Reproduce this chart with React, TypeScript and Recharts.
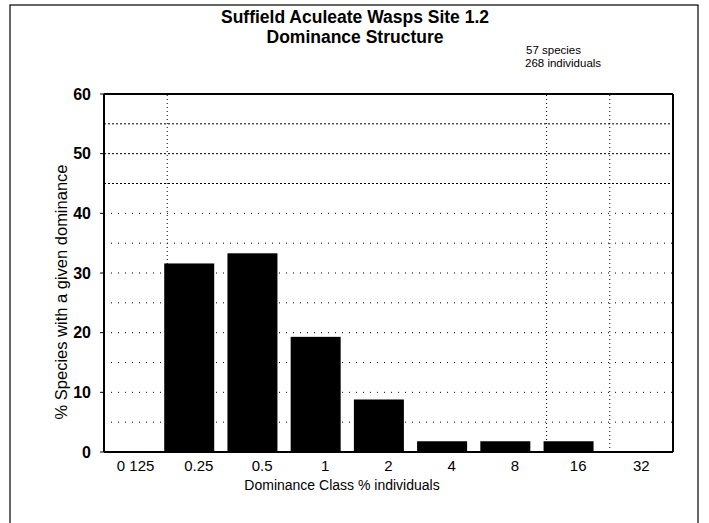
import React from 'react';
import { BarChart, Bar, XAxis, YAxis, ReferenceLine } from 'recharts';

const categories = ['0 125', '0.25', '0.5', '1', '2', '4', '8', '16', '32'];
const percentSpecies = [0, 31.6, 33.3, 19.3, 8.8, 1.8, 1.8, 1.8, 0];
const yTicks = [0, 10, 20, 30, 40, 50, 60];
const denseGrid = [45, 50, 55];
const sparseGrid = [5, 10, 15, 20, 25, 30, 35, 40];
const verticalGridAt = ['0.25', '16', '32'];

const data = categories.map((c, i) => ({ cls: c, pct: percentSpecies[i] }));

const FONT = '"Liberation Sans", Arial, sans-serif';

const ShiftedBar = (props: any) => {
  const { x, y, width, height } = props;
  if (!height || height <= 0) return null;
  return <rect x={x - 10} y={y} width={width} height={height} fill="#000" />;
};

export default function App() {
  return (
    <div style={{ position: 'absolute', left: 0, top: 0, width: 709, height: 523, background: '#fff', fontFamily: FONT }}>
      <svg width={709} height={523} style={{ position: 'absolute', left: 0, top: 0 }}>
        <rect x={10} y={5} width={688} height={530} fill="none" stroke="#000" strokeWidth={1.2} />
        <text x={355} y={23} textAnchor="middle" fontSize={17.5} fontWeight="bold" fontFamily={FONT}>Suffield Aculeate Wasps Site 1.2</text>
        <text x={355} y={43} textAnchor="middle" fontSize={17.5} fontWeight="bold" fontFamily={FONT}>Dominance Structure</text>
        <text x={526} y={54} fontSize={11.5} fontFamily={FONT}>57 species</text>
        <text x={525} y={67} fontSize={11.5} fontFamily={FONT}>268 individuals</text>
        <text x={67} y={292} textAnchor="middle" fontSize={16.5} fontFamily={FONT} transform="rotate(-90 67 292)">% Species with a given dominance</text>
        <text x={342} y={490} textAnchor="middle" fontSize={14} fontFamily={FONT}>Dominance Class % individuals</text>
      </svg>
      <div style={{ position: 'absolute', left: 0, top: 0 }}>
        <BarChart width={709} height={523} data={data} margin={{ top: 94, right: 36, bottom: 41, left: 0 }} barCategoryGap="10%">
          {sparseGrid.map((v) => (
            <ReferenceLine key={'s' + v} y={v} stroke="#000" strokeDasharray="1 6" strokeWidth={1} />
          ))}
          {denseGrid.map((v) => (
            <ReferenceLine key={'d' + v} y={v} stroke="#000" strokeDasharray="2 2" strokeWidth={1} />
          ))}
          {verticalGridAt.map((c) => (
            <ReferenceLine key={'v' + c} x={c} position="start" stroke="#000" strokeDasharray="1 3" strokeWidth={1} />
          ))}
          <XAxis
            dataKey="cls"
            height={30}
            axisLine={{ stroke: '#000', strokeWidth: 2 }}
            tickLine={false}
            tick={{ fill: '#000', fontSize: 15, fontFamily: FONT }}
            tickMargin={2}
            interval={0}
          />
          <YAxis
            width={104}
            domain={[0, 60]}
            ticks={yTicks}
            axisLine={{ stroke: '#000', strokeWidth: 2 }}
            tickLine={{ stroke: '#000' }}
            tickSize={4}
            tickMargin={9}
            tick={{ fill: '#000', fontSize: 16, fontWeight: 'bold', fontFamily: FONT }}
          />
          <ReferenceLine y={60} stroke="#000" strokeWidth={2} />
          <ReferenceLine x="32" position="end" stroke="#000" strokeWidth={2} />
          <Bar dataKey="pct" fill="#000" barSize={50} shape={<ShiftedBar />} isAnimationActive={false} />
        </BarChart>
      </div>
    </div>
  );
}
